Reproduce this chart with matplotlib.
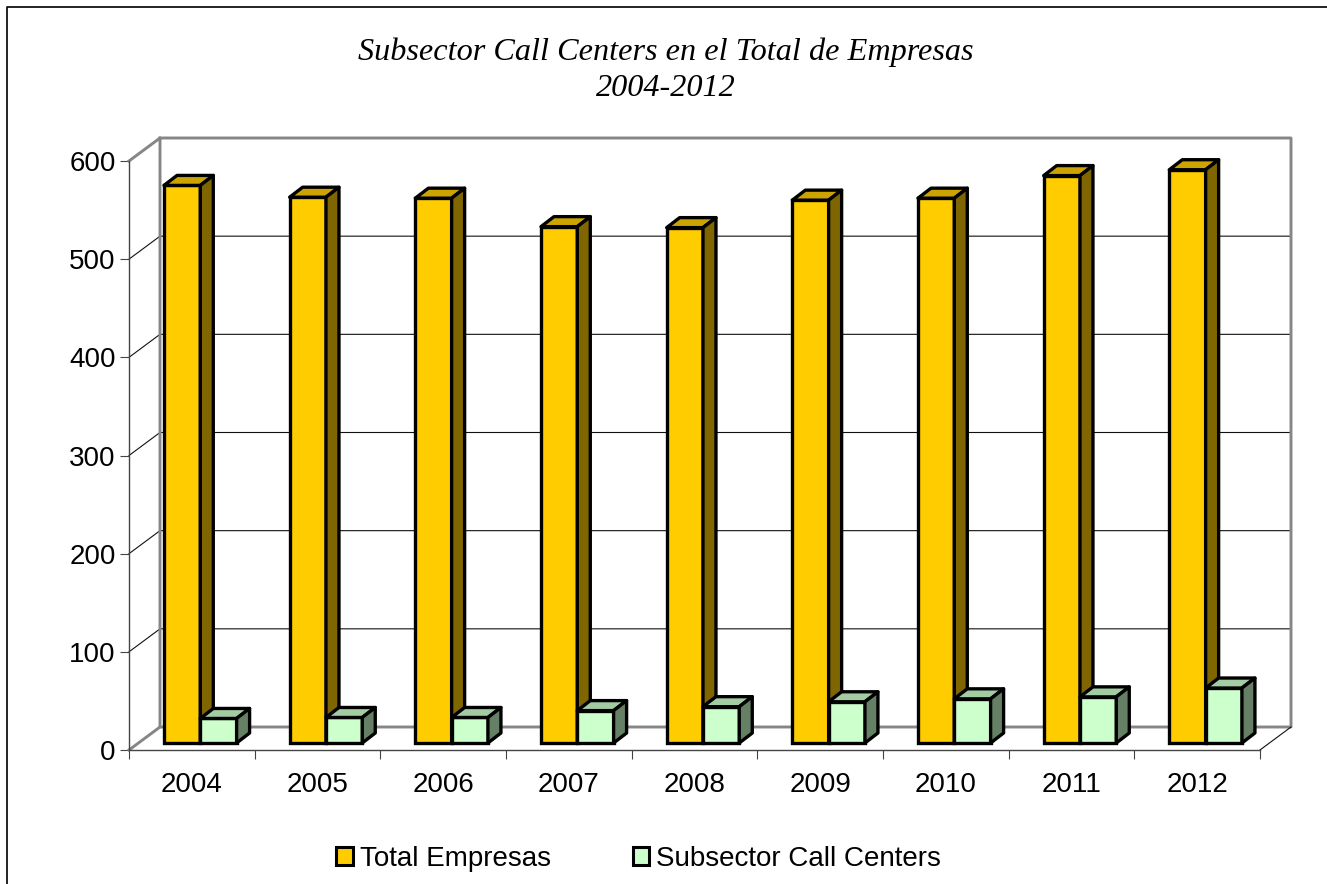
import matplotlib
matplotlib.use('Agg')
import matplotlib.pyplot as plt
from matplotlib.lines import Line2D
from matplotlib.patches import Patch, Polygon

years = ['2004', '2005', '2006', '2007', '2008', '2009', '2010', '2011', '2012']
total_empresas = [568, 556, 555, 526, 525, 553, 555, 578, 584]
call_centers = [25, 26, 26, 33, 37, 42, 45, 47, 56]
y_ticks = [0, 100, 200, 300, 400, 500, 600]

W, H = 1327, 884
AX_L, AX_R, AX_T, AX_B = 129, 1260, 161, 750
PX_X = 9 / (AX_R - AX_L)  # data units per pixel
PX_Y = 600 / (AX_B - AX_T)
WALL_X, WALL_Y = 31 * PX_X, 23 * PX_Y
DEPTH_X, DEPTH_Y = 13 * PX_X, 10 * PX_Y
BAR_W = 36.3 * PX_X
BAR_START = 35 * PX_X
BASE = 7 * PX_Y
EDGE = 2.4


def bar3d(ax, x, top, colors):
    front, roof, side = colors
    ax.bar(x, top, BAR_W, bottom=BASE, align='edge', color=front, edgecolor='black',
           linewidth=EDGE, zorder=5, clip_on=False)
    y1 = BASE + top
    ax.add_patch(Polygon([(x, y1), (x + DEPTH_X, y1 + DEPTH_Y), (x + BAR_W + DEPTH_X, y1 + DEPTH_Y), (x + BAR_W, y1)],
                         fc=roof, ec='black', lw=EDGE, zorder=5, clip_on=False, joinstyle='round'))
    ax.add_patch(Polygon([(x + BAR_W, BASE), (x + BAR_W + DEPTH_X, BASE + DEPTH_Y),
                          (x + BAR_W + DEPTH_X, y1 + DEPTH_Y), (x + BAR_W, y1)],
                         fc=side, ec='black', lw=EDGE, zorder=5, clip_on=False, joinstyle='round'))


plt.rcParams['font.family'] = ['Liberation Sans', 'DejaVu Sans']
fig = plt.figure(figsize=(W / 100, H / 100), dpi=100)
ax = fig.add_axes([AX_L / W, 1 - AX_B / H, (AX_R - AX_L) / W, (AX_B - AX_T) / H])
ax.set_xlim(0, 9)
ax.set_ylim(0, 600)
ax.patch.set_alpha(0)

# walls
grey = '#868686'
for v in y_ticks[1:-1]:
    ax.plot([0, WALL_X, 9 + WALL_X], [v, v + WALL_Y, v + WALL_Y], color='#111111', lw=0.8, zorder=1, clip_on=False)
ax.plot([0, WALL_X, WALL_X, 9 + WALL_X, 9 + WALL_X, WALL_X],
        [600, 600 + WALL_Y, WALL_Y, WALL_Y, 600 + WALL_Y, 600 + WALL_Y],
        color=grey, lw=2.1, zorder=2, clip_on=False)
ax.plot([0, WALL_X], [0, WALL_Y], color=grey, lw=2.1, zorder=2, clip_on=False)
ax.plot([9, 9 + WALL_X], [0, WALL_Y], color='#111111', lw=0.8, zorder=2, clip_on=False)

for i in range(len(years)):
    x = i + BAR_START
    bar3d(ax, x, total_empresas[i], ('#FFCC00', '#CCA300', '#806600'))
    bar3d(ax, x + BAR_W, call_centers[i], ('#CCFFCC', '#A3CCA3', '#668066'))

for s in ['top', 'right']:
    ax.spines[s].set_visible(False)
ax.spines['left'].set_color('#444444')
ax.spines['bottom'].set_color('#444444')
ax.spines['left'].set_linewidth(1.0)
ax.spines['bottom'].set_linewidth(1.0)
ax.set_yticks(y_ticks)
ax.set_xticks(range(10))
ax.set_xticklabels([])
ax.set_xticks([i + 0.5 for i in range(9)], labels=years, minor=True)
ax.tick_params(axis='x', which='major', length=6.5, width=0.8, color='#444444')
ax.tick_params(axis='x', which='minor', length=0, labelsize=20, pad=15.5)
ax.tick_params(axis='y', length=6.5, width=0.8, color='#444444', labelsize=20, pad=3)

fig.text(666 / W, 1 - 70 / H, 'Subsector Call Centers en el Total de Empresas\n2004-2012',
         family='Liberation Serif', style='italic', fontsize=23.2, ha='center', va='center', linespacing=1.31)

handles = [Patch(fc='#FFCC00', ec='black', lw=2.2), Patch(fc='#CCFFCC', ec='black', lw=2.2)]
fig.legend(handles, ['Total Empresas', 'Subsector Call Centers'], ncol=2, frameon=False, fontsize=20,
           loc='center', bbox_to_anchor=(638.5 / W, 1 - 859 / H), handlelength=0.6, handleheight=0.6,
           handletextpad=0.25, columnspacing=2.95, borderpad=0, borderaxespad=0)

# chart border, only top and left show in the picture
fig.add_artist(Line2D([1, 7 / W, 7 / W], [1 - 7 / H, 1 - 7 / H, 0], color='#111111', lw=1.3))

fig.savefig('out.png', dpi=100)
